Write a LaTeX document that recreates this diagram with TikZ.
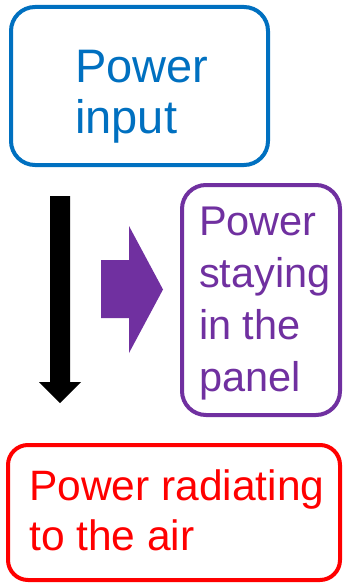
\documentclass[tikz,border=0pt]{standalone}
\usepackage{fontspec}
\setmainfont{Liberation Sans}
\definecolor{inblue}{HTML}{0070C0}
\definecolor{stpurple}{HTML}{7030A0}
\definecolor{airred}{HTML}{FF0000}
\tikzset{
  panel/.style={draw, line width=4pt, rounded corners=24pt, fill=white, inner sep=0pt},
  label/.style={anchor=base west, align=left, inner sep=0pt},
}
\begin{document}
\begin{tikzpicture}[x=1pt, y=-1pt]
  \useasboundingbox[fill=white] (0,0) rectangle (343,583);

  % boxes
  \node[panel, draw=inblue, minimum width=257pt, minimum height=158pt] (input) at (139.5,86) {};
  \node[panel, draw=stpurple, minimum width=158pt, minimum height=230pt] (stay) at (261,300) {};
  \node[panel, draw=airred, rounded corners=20pt, minimum width=332pt, minimum height=135pt] (air) at (174,512.5) {};

  % texts (the base anchor sits on the last line's baseline)
  \node[label, text=inblue, font={\fontsize{47}{51}\selectfont}] (inputtxt) at (75,133) {Power\\input};
  \node[label, text=stpurple, font={\fontsize{41.5}{52}\selectfont}] (staytxt) at (199,391) {Power\\staying\\in the\\panel};
  \node[label, text=airred, font={\fontsize{42.5}{50}\selectfont}] (airtxt) at (29,550) {Power radiating\\to the air};

  % downward black block arrow
  \fill[black] (50,196) -- (70,196) -- (70,382) -- (81,382) -- (60,403)
    -- (39,382) -- (50,382) -- cycle;

  % purple block arrow toward the panel box
  \fill[stpurple] (101,260) -- (129,260) -- (129,226) -- (163,289.5)
    -- (129,353) -- (129,318) -- (101,318) -- cycle;
\end{tikzpicture}
\end{document}
